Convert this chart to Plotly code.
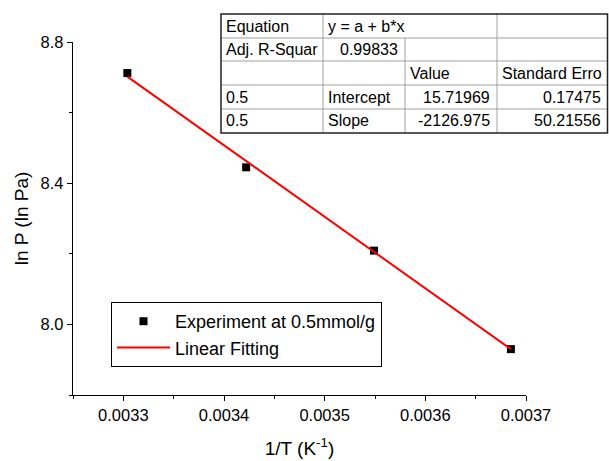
import plotly.graph_objects as go

# ---- data ----
inv_T = [0.003304, 0.003422, 0.003549, 0.003685]
lnP = [8.712, 8.445, 8.209, 7.930]
fit_x = [0.003304, 0.003685]
fit_y = [8.702, 7.930]

x_ticks = [0.0033, 0.0034, 0.0035, 0.0036, 0.0037]
y_ticks = [8.0, 8.4, 8.8]

table_rows = [
    ["Equation", "y = a + b*x", "", ""],
    ["Adj. R-Squar", "0.99833", "", ""],
    ["", "", "Value", "Standard Erro"],
    ["0.5", "Intercept", "15.71969", "0.17475"],
    ["0.5", "Slope", "-2126.975", "50.21556"],
]
table_align = [
    ["left", "left", "left", "left"],
    ["left", "right", "left", "left"],
    ["left", "left", "left", "left"],
    ["left", "left", "right", "right"],
    ["left", "left", "right", "right"],
]

W, H = 609, 461
L, R, T, B = 73, 526, 42, 395
FONT = "Liberation Sans, Arial, sans-serif"


def px(xp):
    return (xp - L) / (R - L)


def py(yp):
    return (B - yp) / (B - T)


fig = go.Figure()
fig.add_trace(go.Scatter(
    x=inv_T, y=lnP, mode="markers", name="Experiment at 0.5mmol/g",
    marker=dict(symbol="square", size=8, color="black"),
))
fig.add_trace(go.Scatter(
    x=fit_x, y=fit_y, mode="lines", name="Linear Fitting",
    line=dict(color="#ff0000", width=2),
))

# ---- table drawn with shapes / annotations ----
col_edges = [221, 323, 405, 497, 608]
row_edges = [14, 38, 61, 85, 109, 133]
shapes = []
grid = dict(color="#a0a0a0", width=1)
for yy in row_edges[1:-1]:
    shapes.append(dict(type="line", xref="paper", yref="paper",
                       x0=px(col_edges[0]), x1=px(col_edges[-1]),
                       y0=py(yy), y1=py(yy), line=grid))
shapes.append(dict(type="line", xref="paper", yref="paper",
                   x0=px(323), x1=px(323), y0=py(14), y1=py(133), line=grid))
shapes.append(dict(type="line", xref="paper", yref="paper",
                   x0=px(405), x1=px(405), y0=py(38), y1=py(133), line=grid))
shapes.append(dict(type="line", xref="paper", yref="paper",
                   x0=px(497), x1=px(497), y0=py(14), y1=py(133), line=grid))
shapes.append(dict(type="rect", xref="paper", yref="paper",
                   x0=px(221), x1=px(607.5), y0=py(14), y1=py(133),
                   line=dict(color="#222222", width=1.5)))

annotations = []
for r, row in enumerate(table_rows):
    yc = (row_edges[r] + row_edges[r + 1]) / 2
    for c, txt in enumerate(row):
        if not txt:
            continue
        al = table_align[r][c]
        if al == "left":
            xa = col_edges[c] + 3
            anchor = "left"
        else:
            xa = col_edges[c + 1] - 5
            anchor = "right"
        annotations.append(dict(
            text=txt, xref="paper", yref="paper", x=px(xa), y=py(yc),
            xanchor=anchor, yanchor="middle", showarrow=False,
            font=dict(family=FONT, size=16, color="black"),
        ))

fig.update_layout(
    width=W, height=H,
    margin=dict(l=L, r=W - R, t=T, b=H - B, pad=0, autoexpand=False),
    paper_bgcolor="white", plot_bgcolor="white",
    font=dict(family=FONT, size=16.5, color="black"),
    showlegend=True,
    legend=dict(
        x=px(111), y=py(302), xanchor="left", yanchor="top",
        bordercolor="black", borderwidth=1, bgcolor="white",
        font=dict(family=FONT, size=18, color="black"),
        tracegroupgap=0, itemwidth=53,
    ),
    shapes=shapes,
    annotations=annotations,
    xaxis=dict(
        range=[0.00325, 0.0037], tickvals=x_ticks, tickformat=".4f",
        automargin=False,
        showline=True, linecolor="black", linewidth=1.3,
        ticks="outside", ticklen=5, tickwidth=1.3, tickcolor="black",
        minor=dict(dtick=0.00005, tick0=0.00325, ticks="outside", ticklen=3,
                   tickwidth=1.3, tickcolor="black"),
        showgrid=False, zeroline=False, mirror=False,
        title=dict(text="1/T (K<sup>-1</sup>)", font=dict(size=19), standoff=18),
        tickfont=dict(size=16.5),
    ),
    yaxis=dict(
        range=[7.8, 8.8], tickvals=y_ticks, tickformat=".1f",
        automargin=False,
        showline=True, linecolor="black", linewidth=1.3,
        ticks="outside", ticklen=5, tickwidth=1.3, tickcolor="black",
        minor=dict(dtick=0.2, tick0=7.8, ticks="outside", ticklen=3,
                   tickwidth=1.3, tickcolor="black"),
        showgrid=False, zeroline=False, mirror=False,
        title=dict(text="ln P (ln Pa)", font=dict(size=19), standoff=6),
        tickfont=dict(size=16.5),
    ),
)

fig.write_html(
    "out.html",
    config={"displayModeBar": False},
    post_script="document.body.style.margin='0px';document.body.style.overflow='hidden';",
)
